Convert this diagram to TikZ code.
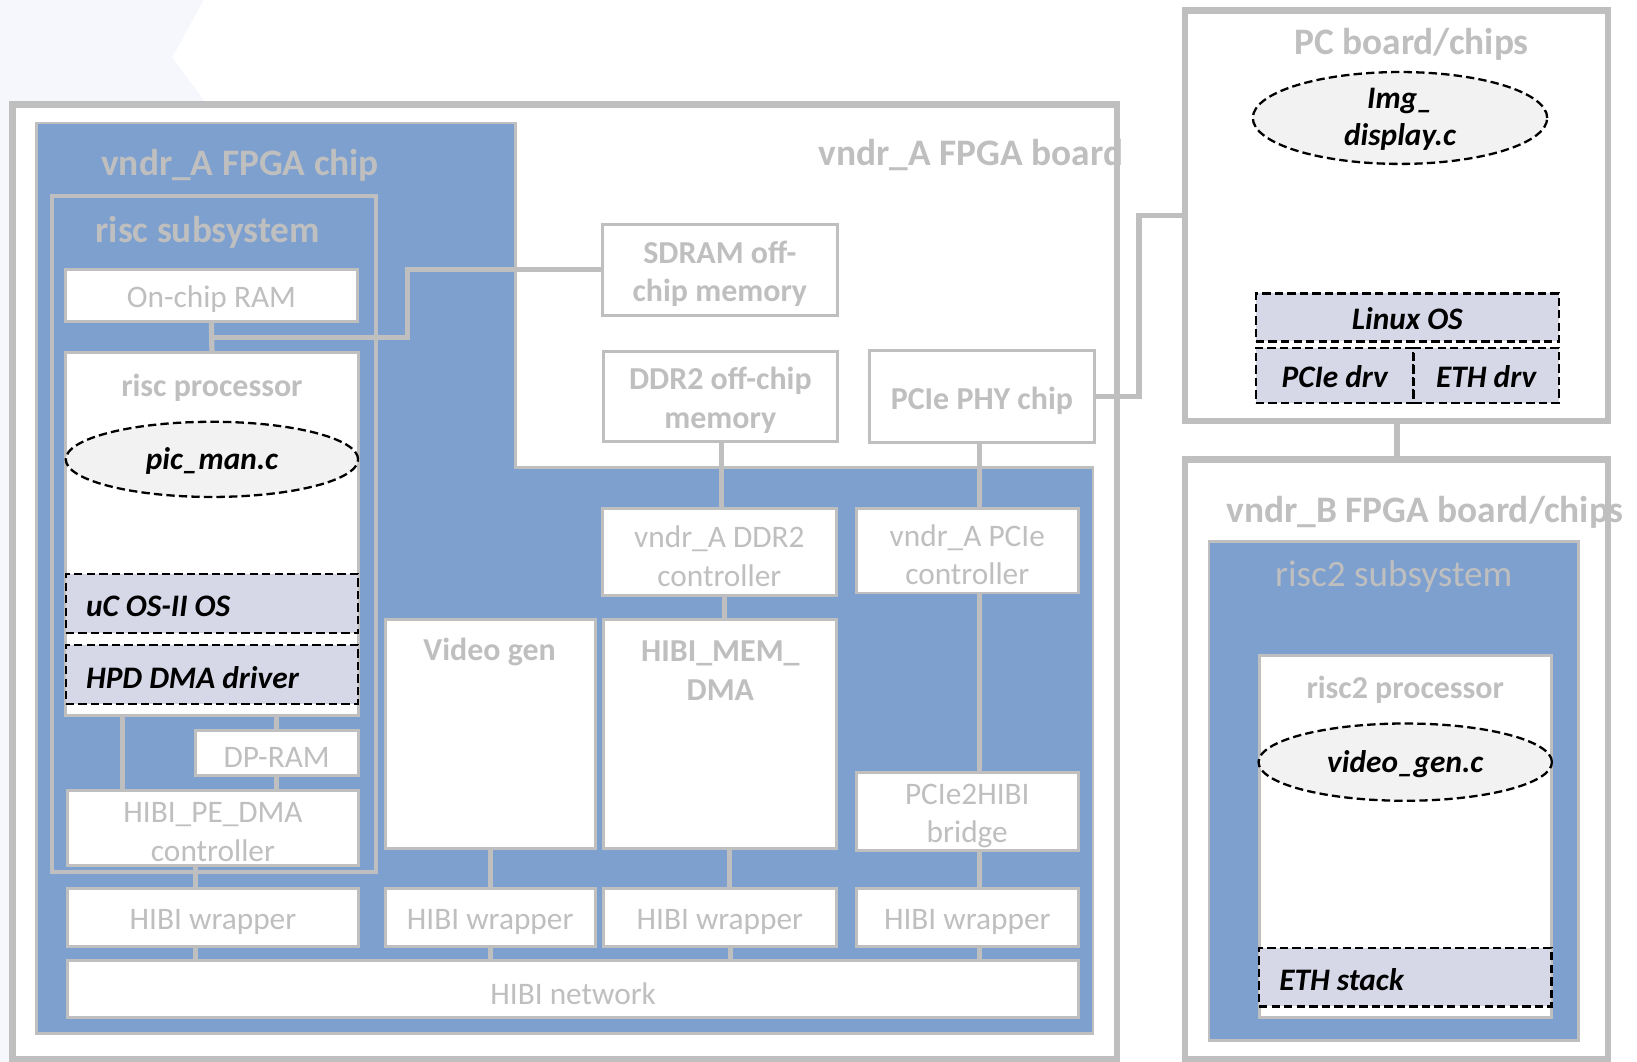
\documentclass[tikz,border=0pt]{standalone}
\usepackage{fontspec}
\setmainfont{Carlito}
\usetikzlibrary{fit,shapes.geometric}

\definecolor{lgray}{RGB}{191,191,191}
\definecolor{chipblue}{RGB}{126,160,207}
\definecolor{lav}{RGB}{214,216,232}
\definecolor{egray}{RGB}{242,242,242}
\definecolor{haze}{RGB}{245,247,253}

\pgfdeclarelayer{back}
\pgfdeclarelayer{wires}
\pgfsetlayers{back,wires,main}

\begin{document}
\begin{tikzpicture}[x=0.5pt,y=-0.5pt,
  board/.style={draw=lgray,line width=3pt,fill=white,inner sep=0pt},
  chipfill/.style={fill=chipblue,draw=lgray,line width=1.2pt},
  subsys/.style={draw=lgray,line width=1.9pt,inner sep=0pt},
  chipbox/.style={fill=chipblue,draw=lgray,line width=1.4pt,inner sep=0pt},
  wbox/.style={fill=white,draw=lgray,line width=1.4pt,inner sep=0pt},
  dbox/.style={fill=lav,draw=black,line width=1.1pt,dash pattern=on 4pt off 2pt,inner sep=0pt},
  ell/.style={ellipse,fill=egray,draw=black,line width=1.1pt,dash pattern=on 4pt off 2pt,inner sep=0pt},
  conn/.style={draw=lgray,line width=2.5pt},
  lbl/.style={text=lgray,align=center,font=\fontsize{15}{18.5}\selectfont,inner sep=0pt,yshift=-2pt},
  blbl/.style={text=lgray,align=center,font=\fontsize{15.3}{18.5}\selectfont\bfseries,inner sep=0pt,yshift=-1.8pt},
  ttl/.style={text=lgray,font=\fontsize{17.9}{21}\selectfont\bfseries,inner sep=0pt,yshift=-1.5pt},
  rttl/.style={text=lgray,font=\fontsize{17.8}{21}\selectfont,inner sep=0pt,yshift=-1.2pt},
  code/.style={text=black,align=center,font=\fontsize{15}{17.8}\selectfont\bfseries\itshape,inner sep=0pt,yshift=-0.8pt}
]
\useasboundingbox (0,0) rectangle (1568,1017);

% ---------- boards, chip area and subsystems ----------
\begin{pgfonlayer}{back}
  \fill[haze] (0,0) -- (195,0) -- (165,55) -- (196,97) -- (196,100) -- (0,100) -- cycle;
  \fill[haze] (0,0) rectangle (10,1017);
  \node[board, fit={(12,100) (1070,1014)}] (boardA) {};
  \node[board, fit={(1135,10) (1540,403)}] (pc) {};
  \node[board, fit={(1135,440) (1540,1014)}] (boardB) {};
  \draw[chipfill] (35,118) -- (494,118) -- (494,448) -- (1047,448) -- (1047,990) -- (35,990) -- cycle;
  \node[subsys, fit={(50,188) (360,835)}] (risc) {};
  \node[chipbox, fit={(1158,519) (1512,997)}] (risc2) {};
\end{pgfonlayer}

% ---------- risc subsystem ----------
\node[wbox, fit={(63,258) (342,308)}] (ram) {};
\node[lbl] (ramlbl) at (ram.center) {On-chip RAM};
\node[wbox, fit={(63,338) (343,685)}] (proc) {};
\node[blbl] (proclbl) at (203,368) {risc processor};
\node[ell, minimum width=140pt, minimum height=36pt] (picman) at (203,440) {};
\node[code] (picmanlbl) at (picman.center) {pic\_man.c};
\node[dbox, fit={(63,550) (343,606)}] (ucos) {};
\node[code, anchor=west] (ucoslbl) at (82,579) {uC OS-II OS};
\node[dbox, fit={(63,618) (343,674)}] (hpd) {};
\node[code, anchor=west] (hpdlbl) at (82,647) {HPD DMA driver};
\node[wbox, fit={(187,700) (343,743)}] (dpram) {};
\node[lbl] (dpramlbl) at (dpram.center) {DP-RAM};
\node[wbox, fit={(65,757) (343,829)}] (pedma) {};
\node[lbl] (pedmalbl) at (pedma.center) {HIBI\_PE\_DMA\\controller};

% ---------- FPGA chip blocks ----------
\node[wbox, fit={(65,851) (343,907)}] (wr1) {};
\node[lbl] (wr1lbl) at (wr1.center) {HIBI wrapper};
\node[wbox, fit={(369,593) (570,813)}] (vgen) {};
\node[blbl] (vgenlbl) at (469,621) {Video gen};
\node[wbox, fit={(369,851) (570,907)}] (wr2) {};
\node[lbl] (wr2lbl) at (wr2.center) {HIBI wrapper};
\node[wbox, fit={(577,215) (802,302)}] (sdram) {};
\node[blbl] (sdramlbl) at (sdram.center) {SDRAM off-\\chip memory};
\node[wbox, fit={(578,337) (802,423)}] (ddr) {};
\node[blbl] (ddrlbl) at (ddr.center) {DDR2 off-chip\\memory};
\node[wbox, fit={(577,487) (801,570)}] (ddrc) {};
\node[lbl] (ddrclbl) at (ddrc.center) {vndr\_A DDR2\\controller};
\node[wbox, fit={(578,593) (801,813)}] (memdma) {};
\node[blbl] (memdmalbl) at (690,639) {HIBI\_MEM\_\\DMA};
\node[wbox, fit={(578,851) (801,907)}] (wr3) {};
\node[lbl] (wr3lbl) at (wr3.center) {HIBI wrapper};
\node[wbox, fit={(833,336) (1048,424)}] (phy) {};
\node[blbl] (phylbl) at (phy.center) {PCIe PHY chip};
\node[wbox, fit={(820,487) (1033,568)}] (pciec) {};
\node[lbl] (pcieclbl) at (pciec.center) {vndr\_A PCIe\\controller};
\node[wbox, fit={(820,740) (1033,815)}] (p2h) {};
\node[lbl] (p2hlbl) at (p2h.center) {PCIe2HIBI\\bridge};
\node[wbox, fit={(820,851) (1033,907)}] (wr4) {};
\node[lbl] (wr4lbl) at (wr4.center) {HIBI wrapper};
\node[wbox, fit={(65,920) (1033,975)}] (net) {};
\node[lbl] (netlbl) at (net.center) {HIBI network};

% ---------- PC board ----------
\node[ell, minimum width=141pt, minimum height=44pt] (img) at (1341,113) {};
\node[code] (imglbl) at (img.center) {Img\_\\display.c};
\node[dbox, fit={(1203,281) (1493,327)}] (linux) {};
\node[code] (linuxlbl) at (linux.center) {Linux OS};
\node[dbox, fit={(1203,333) (1354,386)}] (pcidrv) {};
\node[code] (pcidrvlbl) at (pcidrv.center) {PCIe drv};
\node[dbox, fit={(1354,333) (1493,386)}] (ethdrv) {};
\node[code] (ethdrvlbl) at (ethdrv.center) {ETH drv};

% ---------- vndr_B board ----------
\node[wbox, fit={(1206,628) (1486,975)}] (proc2) {};
\node[blbl] (proc2lbl) at (1346,657) {risc2 processor};
\node[ell, minimum width=140.5pt, minimum height=37pt] (vgc) at (1346,730) {};
\node[code] (vgclbl) at (vgc.center) {video\_gen.c};
\node[dbox, fit={(1206,908) (1486,964)}] (eth) {};
\node[code, anchor=west] (ethlbl) at (1225,937) {ETH stack};

% ---------- titles ----------
\node[ttl] (chiplbl) at (230,155) {vndr\_A FPGA chip};
\node[ttl] (risclbl) at (199,220) {risc subsystem};
\node[ttl] (boardAlbl) at (930,145) {vndr\_A FPGA board};
\node[ttl] (pclbl) at (1352,39) {PC board/chips};
\node[ttl] (boardBlbl) at (1365,488) {vndr\_B FPGA board/chips};
\node[rttl] (risc2lbl) at (1335,550) {risc2 subsystem};

% ---------- connectors ----------
\begin{pgfonlayer}{wires}
  \draw[conn] (ram.south) -- (proc.north);
  \draw[conn] (sdram.west) -| (390,323) -- (ram.south |- 390,323);
  \draw[conn] (proc.south -| 117,0) -- (pedma.north -| 117,0);
  \draw[conn] (proc.south -| 265,0) -- (dpram.north -| 265,0);
  \draw[conn] (dpram.south -| 265,0) -- (pedma.north -| 265,0);
  \draw[conn] (pedma.south -| 187,0) -- (wr1.north -| 187,0);
  \draw[conn] (wr1.south -| 187,0) -- (net.north -| 187,0);
  \draw[conn] (vgen.south) -- (wr2.north);
  \draw[conn] (wr2.south) -- (net.north -| wr2.south);
  \draw[conn] (ddr.south -| 691,0) -- (ddrc.north -| 691,0);
  \draw[conn] (ddrc.south -| 694,0) -- (memdma.north -| 694,0);
  \draw[conn] (memdma.south -| 699,0) -- (wr3.north -| 699,0);
  \draw[conn] (wr3.south -| 700,0) -- (net.north -| 700,0);
  \draw[conn] (phy.south -| 938,0) -- (pciec.north -| 938,0);
  \draw[conn] (pciec.south -| 938,0) -- (p2h.north -| 938,0);
  \draw[conn] (p2h.south -| 938,0) -- (wr4.north -| 938,0);
  \draw[conn] (wr4.south -| 938,0) -- (net.north -| 938,0);
  \draw[conn] (phy.east) -| (pc.west -| 1091,0) -- (pc.west);
  \draw[conn] (pc.south -| 1338,0) -- (boardB.north -| 1338,0);
\end{pgfonlayer}
\end{tikzpicture}
\end{document}
